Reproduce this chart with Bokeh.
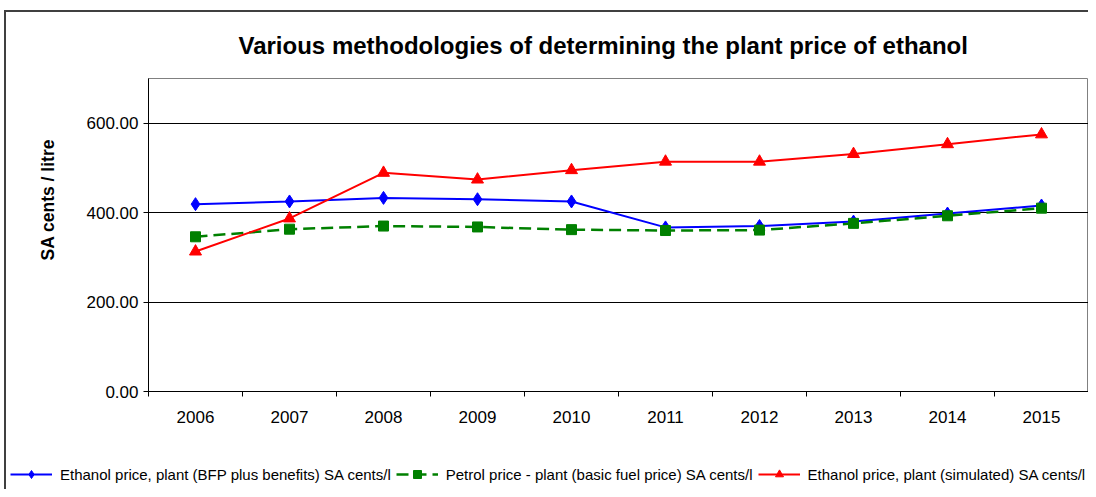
import numpy as np
from bokeh.plotting import figure
from bokeh.layouts import column
from bokeh.models import (FixedTicker, Legend, LegendItem, Title,
                          Range1d, NumeralTickFormatter)
from bokeh.embed import file_html
from bokeh.resources import INLINE

years = ["2006", "2007", "2008", "2009", "2010", "2011", "2012", "2013", "2014", "2015"]
ethanol_bfp = [419, 425, 433, 430, 425, 367, 370, 380, 398, 416]
petrol_bfp = [346, 363, 370, 368, 362, 360, 361, 376, 393, 410]
ethanol_sim = [313, 387, 489, 474, 495, 514, 514, 531, 553, 575]

title_text = "Various methodologies of determining the plant price of ethanol"
y_title = "SA cents / litre"
names = ["Ethanol price, plant (BFP plus benefits) SA cents/l",
         "Petrol price - plant (basic fuel price) SA cents/l",
         "Ethanol price, plant (simulated) SA cents/l"]
colors = ["#0000FF", "#008000", "#FF0000"]
markers = ["diamond", "square", "triangle"]
msizes = [13, 10, 12]
dashes = ["solid", "12 6", "solid"]
lwidths = [2, 2.5, 2]

FONT = "Liberation Sans"
W, H1, H2 = 1088, 450, 39
FL, FT, FR, FB = 148, 78, 0, 59

xs = np.arange(len(years)) + 0.5
series = [ethanol_bfp, petrol_bfp, ethanol_sim]

p = figure(width=W, height=H1, output_backend="svg", toolbar_location=None,
           x_range=Range1d(0, len(years)), y_range=Range1d(0, 700),
           min_border_left=FL, min_border_right=FR, min_border_top=FT,
           min_border_bottom=FB)
p.background_fill_color = "white"
p.border_fill_alpha = 0
p.outline_line_color = "#808080"
p.outline_line_width = 1

# title
p.title.text = title_text
p.title.align = "left"
p.title.offset = 90
p.title.standoff = 39
p.title.text_font = FONT
p.title.text_font_style = "bold"
p.title.text_font_size = "24px"
p.title.text_color = "black"

# x axis: labels at centres, ticks at category boundaries
p.xaxis.ticker = FixedTicker(ticks=list(xs), minor_ticks=list(range(len(years) + 1)))
p.xaxis.major_label_overrides = {float(x): y for x, y in zip(xs, years)}
p.xaxis.major_tick_out = 0
p.xaxis.major_tick_in = 0
p.xaxis.minor_tick_out = 5
p.xaxis.minor_tick_in = 0
p.xaxis.minor_tick_line_color = "black"
p.xaxis.axis_line_color = "black"
p.xaxis.major_label_standoff = 14
p.xaxis.major_label_text_font = FONT
p.xaxis.major_label_text_font_size = "17px"
p.xaxis.major_label_text_color = "black"
p.xgrid.visible = False

p.yaxis.ticker = FixedTicker(ticks=[0, 200, 400, 600])
p.yaxis.formatter = NumeralTickFormatter(format="0.00")
p.yaxis.major_tick_out = 5
p.yaxis.major_tick_in = 0
p.yaxis.minor_tick_out = 0
p.yaxis.minor_tick_in = 0
p.yaxis.axis_line_color = "black"
p.yaxis.major_tick_line_color = "black"
p.yaxis.major_label_standoff = 5
p.yaxis.major_label_text_font = FONT
p.yaxis.major_label_text_font_size = "17px"
p.yaxis.major_label_text_color = "black"
p.ygrid.ticker = FixedTicker(ticks=[200, 400, 600])
p.ygrid.grid_line_color = "black"
p.ygrid.grid_line_width = 1

ytitle = Title(text=y_title, align="left", offset=131, standoff=52,
               text_font=FONT, text_font_style="bold", text_font_size="17.5px",
               text_color="black")
p.add_layout(ytitle, "left")

for vals, c, m, ms, d, lw in zip(series, colors, markers, msizes, dashes, lwidths):
    p.line(xs, vals, line_color=c, line_width=lw, line_dash=d)
    p.scatter(xs, vals, marker=m, size=ms, fill_color=c, line_color=c)

# legend strip below the chart (its renderers lie outside this strip's ranges)
p2 = figure(width=W, height=H2, output_backend="svg", toolbar_location=None,
            x_range=Range1d(0, 0.1), y_range=Range1d(0, 1),
            min_border=0, x_axis_location=None, y_axis_location=None)
for fig in (p, p2):
    if "frame_align" in fig.properties():
        fig.frame_align = False
p2.grid.visible = False
p2.outline_line_color = None
p2.background_fill_alpha = 0
p2.border_fill_alpha = 0
items = []
for name, vals, c, m, ms, d, lw in zip(names, series, colors, markers, msizes, dashes, lwidths):
    rl = p2.line(xs, vals, line_color=c, line_width=lw, line_dash=d)
    rm = p2.scatter(xs, vals, marker=m, size=ms, fill_color=c, line_color=c)
    items.append(LegendItem(label=name, renderers=[rl, rm]))
legend = Legend(items=items, orientation="horizontal", location=(10, 5),
                glyph_width=42, glyph_height=20, label_standoff=8, spacing=5,
                padding=0, margin=0, border_line_color=None,
                background_fill_alpha=0,
                label_text_font=FONT, label_text_font_size="15px",
                label_text_color="black")
p2.add_layout(legend, "center")

layout = column(p, p2, spacing=0)
layout.styles = {
    "background": "linear-gradient(#404040,#404040) 4px 10px / 2px 100% no-repeat, "
                  "linear-gradient(#404040,#404040) 4px 10px / 100% 2px no-repeat, white"
}

open("out.html", "w").write(file_html(layout, INLINE))
